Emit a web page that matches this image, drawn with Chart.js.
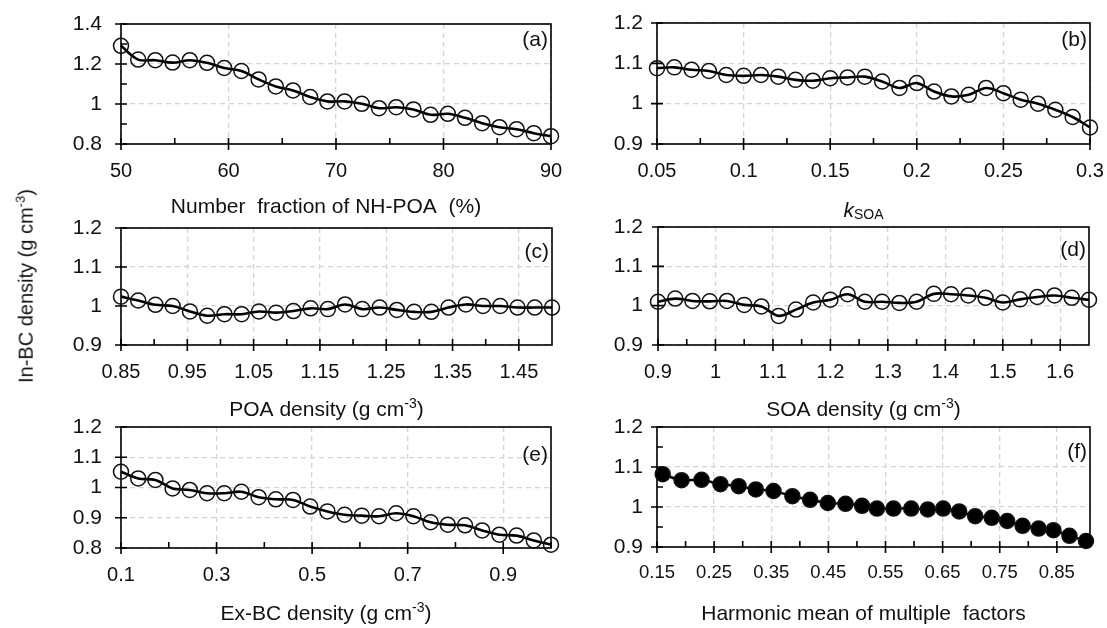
<!DOCTYPE html>
<html>
<head>
<meta charset="utf-8">
<script src="https://cdn.jsdelivr.net/npm/chart.js@4.4.1/dist/chart.umd.min.js"></script>
<style>
  body { margin: 0; background: #fff; }
  #wrap { position: relative; width: 1107px; height: 628px; overflow: hidden; font-family: "Liberation Sans", Arial, sans-serif; }
  #wrap canvas { position: absolute; }
  #ylab { position: absolute; left: 25px; top: 286px; transform: translate(-50%, -50%) rotate(-90deg);
          white-space: nowrap; font-size: 20px; color: #111; }
  #ylab sup { font-size: 13px; }
</style>
</head>
<body>
<div id="wrap">
  <canvas id="ca" width="580" height="228" style="left:0;top:0"></canvas>
  <canvas id="cb" width="527" height="228" style="left:580px;top:0"></canvas>
  <canvas id="cc" width="580" height="228" style="left:0;top:200px"></canvas>
  <canvas id="cd" width="527" height="228" style="left:580px;top:200px"></canvas>
  <canvas id="ce" width="580" height="228" style="left:0;top:400px"></canvas>
  <canvas id="cf" width="527" height="228" style="left:580px;top:400px"></canvas>
  <div id="ylab">In-BC density (g cm<sup>-3</sup>)</div>
</div>
<script>
// (a) number fraction of NH-POA
var xa = [50, 51.6, 53.2, 54.8, 56.4, 58, 59.6, 61.2, 62.8, 64.4, 66, 67.6, 69.2, 70.8, 72.4, 74, 75.6, 77.2, 78.8, 80.4, 82, 83.6, 85.2, 86.8, 88.4, 90];
var ya = [1.291, 1.222, 1.219, 1.207, 1.219, 1.206, 1.180, 1.165, 1.123, 1.088, 1.068, 1.035, 1.013, 1.013, 1.001, 0.979, 0.984, 0.973, 0.946, 0.951, 0.931, 0.904, 0.884, 0.874, 0.854, 0.839];
// (b) kSOA
var xb = [0.05, 0.06, 0.07, 0.08, 0.09, 0.10, 0.11, 0.12, 0.13, 0.14, 0.15, 0.16, 0.17, 0.18, 0.19, 0.20, 0.21, 0.22, 0.23, 0.24, 0.25, 0.26, 0.27, 0.28, 0.29, 0.30];
var yb = [1.088, 1.090, 1.084, 1.081, 1.071, 1.069, 1.071, 1.067, 1.059, 1.057, 1.063, 1.065, 1.067, 1.055, 1.039, 1.051, 1.030, 1.018, 1.022, 1.039, 1.026, 1.010, 1.000, 0.985, 0.967, 0.941];
// (c) POA density
var xc = [0.85, 0.876, 0.902, 0.928, 0.954, 0.98, 1.006, 1.032, 1.058, 1.084, 1.11, 1.136, 1.162, 1.188, 1.214, 1.24, 1.266, 1.292, 1.318, 1.344, 1.37, 1.396, 1.422, 1.448, 1.474, 1.5];
var yc = [1.024, 1.014, 1.003, 1.000, 0.986, 0.975, 0.979, 0.979, 0.986, 0.983, 0.987, 0.994, 0.992, 1.004, 0.992, 0.996, 0.990, 0.985, 0.985, 0.996, 1.004, 1.000, 1.000, 0.996, 0.996, 0.996];
// (d) SOA density
var xd = [0.9, 0.93, 0.96, 0.99, 1.02, 1.05, 1.08, 1.11, 1.14, 1.17, 1.2, 1.23, 1.26, 1.29, 1.32, 1.35, 1.38, 1.41, 1.44, 1.47, 1.5, 1.53, 1.56, 1.59, 1.62, 1.65];
var yd = [1.010, 1.018, 1.012, 1.011, 1.012, 1.002, 0.998, 0.974, 0.990, 1.008, 1.015, 1.029, 1.010, 1.010, 1.007, 1.010, 1.030, 1.029, 1.026, 1.020, 1.008, 1.016, 1.022, 1.026, 1.020, 1.015];
// (e) Ex-BC density
var xe = [0.1, 0.136, 0.172, 0.208, 0.244, 0.28, 0.316, 0.352, 0.388, 0.424, 0.46, 0.496, 0.532, 0.568, 0.604, 0.64, 0.676, 0.712, 0.748, 0.784, 0.82, 0.856, 0.892, 0.928, 0.964, 1.0];
var ye = [1.052, 1.030, 1.025, 0.997, 0.992, 0.981, 0.981, 0.986, 0.968, 0.961, 0.959, 0.937, 0.921, 0.910, 0.907, 0.905, 0.915, 0.905, 0.885, 0.877, 0.875, 0.858, 0.844, 0.841, 0.825, 0.811];
// (f) harmonic mean of multiple factors
var xf = [0.160, 0.193, 0.228, 0.261, 0.293, 0.323, 0.354, 0.387, 0.418, 0.449, 0.480, 0.509, 0.535, 0.564, 0.595, 0.624, 0.651, 0.679, 0.707, 0.736, 0.763, 0.790, 0.818, 0.844, 0.872, 0.901];
var yf = [1.082, 1.067, 1.068, 1.057, 1.052, 1.044, 1.040, 1.027, 1.018, 1.010, 1.008, 1.003, 0.996, 0.996, 0.996, 0.994, 0.996, 0.989, 0.977, 0.973, 0.965, 0.953, 0.946, 0.942, 0.928, 0.915];

// tick values (labelled = major, unlabelled = minor)
var ticksXa = [50, 60, 70, 80, 90], minorXa = [55, 65, 75, 85];
var ticksYa = [0.8, 1, 1.2, 1.4], minorYa = [0.9, 1.1, 1.3];
var ticksXb = [0.05, 0.1, 0.15, 0.2, 0.25, 0.3], minorXb = [0.075, 0.125, 0.175, 0.225, 0.275];
var ticksXc = [0.85, 0.95, 1.05, 1.15, 1.25, 1.35, 1.45], minorXc = [0.9, 1.0, 1.1, 1.2, 1.3, 1.4];
var ticksXd = [0.9, 1, 1.1, 1.2, 1.3, 1.4, 1.5, 1.6], minorXd = [0.95, 1.05, 1.15, 1.25, 1.35, 1.45, 1.55];
var ticksXe = [0.1, 0.3, 0.5, 0.7, 0.9], minorXe = [0.2, 0.4, 0.6, 0.8, 1.0];
var ticksYe = [0.8, 0.9, 1, 1.1, 1.2];
var ticksXf = [0.15, 0.25, 0.35, 0.45, 0.55, 0.65, 0.75, 0.85], minorXf = [0.2, 0.3, 0.4, 0.5, 0.6, 0.7, 0.8, 0.9];
var ticksY3 = [0.9, 1, 1.1, 1.2], minorYf = [0.95, 1.05, 1.15];

var FONT = '"Liberation Sans", Arial, sans-serif';

function fmt(v) { return String(Math.round(v * 1000) / 1000); }

// frame, Excel-style tick marks, axis title with sup/sub, panel letter
var deco = {
    id: 'deco',
    beforeDatasetsDraw: function(chart, args, o) {
        var ctx = chart.ctx, a = chart.chartArea, x = chart.scales.x, y = chart.scales.y;
        ctx.save();
        ctx.strokeStyle = '#000';
        ctx.lineWidth = 1.6;
        ctx.strokeRect(a.left, a.top, a.right - a.left, a.bottom - a.top);
        ctx.beginPath();
        o.majorX.forEach(function(v) { var p = x.getPixelForValue(v); ctx.moveTo(p, a.bottom - 6); ctx.lineTo(p, a.bottom + 6); });
        o.minorX.forEach(function(v) { var p = x.getPixelForValue(v); ctx.moveTo(p, a.bottom - 6); ctx.lineTo(p, a.bottom); });
        o.majorY.forEach(function(v) { var p = y.getPixelForValue(v); ctx.moveTo(a.left - 6, p); ctx.lineTo(a.left + 6, p); });
        o.minorY.forEach(function(v) { var p = y.getPixelForValue(v); ctx.moveTo(a.left, p); ctx.lineTo(a.left + 6, p); });
        ctx.stroke();
        ctx.restore();
    },
    afterDraw: function(chart, args, o) {
        var ctx = chart.ctx, a = chart.chartArea;
        ctx.save();
        ctx.fillStyle = '#111';
        // panel letter
        ctx.font = '21px ' + FONT;
        ctx.textAlign = 'right';
        ctx.textBaseline = 'middle';
        ctx.fillText(o.letter, a.right - 3, a.top + o.letterDy);
        // axis title
        ctx.textAlign = 'left';
        ctx.textBaseline = 'alphabetic';
        var parts = o.title.map(function(s) {
            var size = s.sup ? 14 : (s.sub ? 14 : 21);
            var f = (s.italic ? 'italic ' : '') + size + 'px ' + FONT;
            ctx.font = f;
            return { t: s.t, f: f, w: ctx.measureText(s.t).width, dy: s.sup ? -8 : (s.sub ? 2 : 0) };
        });
        var total = parts.reduce(function(m, p) { return m + p.w; }, 0);
        var cx = (a.left + a.right) / 2 - 10 - total / 2;
        var base = a.bottom + o.titleDy;
        parts.forEach(function(p) {
            ctx.font = p.f;
            ctx.fillText(p.t, cx, base + p.dy);
            cx += p.w;
        });
        ctx.restore();
    }
};

function panel(id, xs, ys, cfg) {
    var ctx = document.getElementById(id).getContext('2d');
    return new Chart(ctx, {
        type: 'line',
        data: {
            datasets: [{
                data: xs.map(function(v, i) { return { x: v, y: ys[i] }; }),
                borderColor: '#000',
                borderWidth: 2.6,
                tension: 0.35,
                pointRadius: 7.5,
                pointBorderWidth: 1.5,
                pointBorderColor: '#111',
                pointBackgroundColor: cfg.filled ? '#000' : 'rgba(0,0,0,0)',
                clip: false
            }]
        },
        options: {
            responsive: false,
            animation: false,
            devicePixelRatio: 1,
            layout: { padding: { top: cfg.top, right: cfg.right, left: 0, bottom: 0 } },
            scales: {
                x: {
                    type: 'linear', min: cfg.xmin, max: cfg.xmax,
                    afterBuildTicks: function(s) { s.ticks = cfg.ticksX.map(function(v) { return { value: v }; }); },
                    afterFit: function(s) { s.height = cfg.xh; s.paddingLeft = 0; s.paddingRight = 0; },
                    grid: { color: '#d4d4d4', lineWidth: 1.3, drawTicks: false },
                    border: { display: false, dash: [5, 4] },
                    ticks: { padding: 15, color: '#111', font: { family: FONT, size: cfg.xfs || 20 },
                             autoSkip: false, maxRotation: 0, minRotation: 0, callback: fmt }
                },
                y: {
                    min: cfg.ymin, max: cfg.ymax,
                    afterBuildTicks: function(s) { s.ticks = cfg.ticksY.map(function(v) { return { value: v }; }); },
                    afterFit: function(s) { s.width = cfg.yw; s.paddingTop = 0; s.paddingBottom = 0; },
                    grid: { color: '#d4d4d4', lineWidth: 1.3, drawTicks: false },
                    border: { display: false, dash: [5, 4] },
                    ticks: { padding: cfg.ypad, color: '#111', font: { family: FONT, size: 21 }, callback: fmt }
                }
            },
            plugins: {
                legend: { display: false },
                tooltip: { enabled: false },
                deco: {
                    letter: cfg.letter, letterDy: cfg.letterDy, title: cfg.title, titleDy: cfg.titleDy,
                    majorX: cfg.ticksX, minorX: cfg.minorX, majorY: cfg.ticksY, minorY: cfg.minorY
                }
            }
        },
        plugins: [deco]
    });
}

panel('ca', xa, ya, { xmin: 50, xmax: 90, ymin: 0.8, ymax: 1.4, ticksX: ticksXa, minorX: minorXa, ticksY: ticksYa, minorY: minorYa,
    top: 24, right: 29, yw: 121, xh: 84, ypad: 19, letter: '(a)', letterDy: 16, titleDy: 69,
    title: [{ t: 'Number  fraction of NH-POA  (%)' }] });
panel('cb', xb, yb, { xmin: 0.05, xmax: 0.3, ymin: 0.9, ymax: 1.2, ticksX: ticksXb, minorX: minorXb, ticksY: ticksY3, minorY: [],
    top: 23, right: 17, yw: 77, xh: 84, ypad: 14, letter: '(b)', letterDy: 17, titleDy: 73,
    title: [{ t: 'k', italic: true }, { t: 'SOA', sub: true }] });
panel('cc', xc, yc, { xmin: 0.85, xmax: 1.5, ymin: 0.9, ymax: 1.2, ticksX: ticksXc, minorX: minorXc, ticksY: ticksY3, minorY: [],
    top: 28, right: 28, yw: 121, xh: 83, ypad: 19, letter: '(c)', letterDy: 24, titleDy: 71,
    title: [{ t: 'POA density (g cm' }, { t: '-3', sup: true }, { t: ')' }] });
panel('cd', xd, yd, { xmin: 0.9, xmax: 1.65, ymin: 0.9, ymax: 1.2, ticksX: ticksXd, minorX: minorXd, ticksY: ticksY3, minorY: [],
    top: 27, right: 18, yw: 78, xh: 83, ypad: 15, letter: '(d)', letterDy: 23, titleDy: 71,
    title: [{ t: 'SOA density (g cm' }, { t: '-3', sup: true }, { t: ')' }] });
panel('ce', xe, ye, { xmin: 0.1, xmax: 1.0, ymin: 0.8, ymax: 1.2, ticksX: ticksXe, minorX: minorXe, ticksY: ticksYe, minorY: [],
    top: 27, right: 29, yw: 121, xh: 80, ypad: 19, letter: '(e)', letterDy: 28, titleDy: 72,
    title: [{ t: 'Ex-BC density (g cm' }, { t: '-3', sup: true }, { t: ')' }] });
panel('cf', xf, yf, { xmin: 0.15, xmax: 0.908, ymin: 0.9, ymax: 1.2, ticksX: ticksXf, minorX: minorXf, ticksY: ticksY3, minorY: minorYf,
    top: 27, right: 17, yw: 77, xh: 81, ypad: 14, xfs: 18.5, letter: '(f)', letterDy: 25, titleDy: 73, filled: true,
    title: [{ t: 'Harmonic mean of multiple  factors' }] });
</script>
</body>
</html>
